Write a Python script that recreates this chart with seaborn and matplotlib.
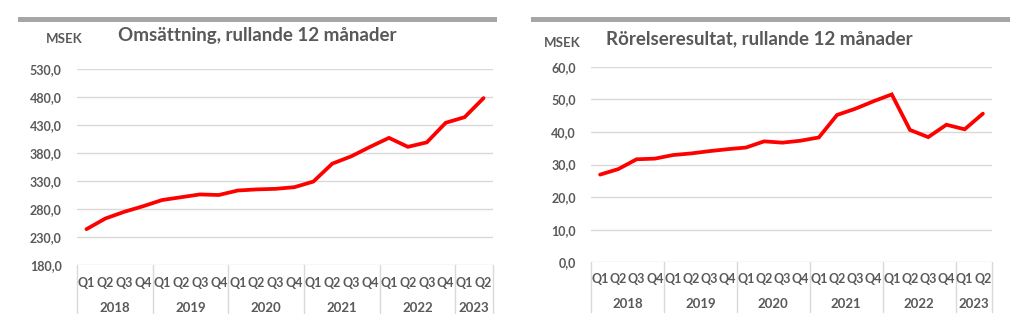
import matplotlib
matplotlib.use("Agg")
import matplotlib.pyplot as plt
import matplotlib.transforms as mtransforms
from matplotlib.patches import Rectangle
import seaborn as sns
import pandas as pd

# ---------------- data ----------------
quarters = ["Q1", "Q2", "Q3", "Q4"] * 5 + ["Q1", "Q2"]
years = ["2018", "2019", "2020", "2021", "2022", "2023"]
year_counts = [4, 4, 4, 4, 4, 2]

omsattning = [244, 263, 275, 285, 296, 301, 306, 305, 313, 315, 316, 319,
              329, 361, 374, 391, 407, 391, 399, 434, 444, 478]
rorelse = [26.9, 28.6, 31.6, 31.8, 32.9, 33.4, 34.1, 34.7, 35.2, 37.1, 36.7, 37.3,
           38.3, 45.2, 47.1, 49.4, 51.5, 40.6, 38.4, 42.2, 40.8, 45.6]

left_title = "Omsättning, rullande 12 månader"
right_title = "Rörelseresultat, rullande 12 månader"
unit = "MSEK"
left_yticks = [180, 230, 280, 330, 380, 430, 480, 530]
right_yticks = [0, 10, 20, 30, 40, 50, 60]

# ---------------- style ----------------
sns.set_theme(style="white")
plt.rcParams["font.family"] = ["Lato", "DejaVu Sans"]
TXT = "#595959"
GRID = "#D9D9D9"

W, H = 1026, 332
fig = plt.figure(figsize=(W / 100, H / 100), dpi=100)
fig.patch.set_facecolor("white")


def px_axes(x0, y0, x1, y1):
    return fig.add_axes([x0 / W, 1 - y1 / H, (x1 - x0) / W, (y1 - y0) / H])


def draw_panel(ax, values, yticks, fmt, q_off, y_off, sep_len):
    df = pd.DataFrame({"idx": list(range(len(values))), "val": values})
    sns.lineplot(data=df, x="idx", y="val", ax=ax, color="#FF0000",
                 linewidth=2.7, solid_joinstyle="miter")
    ax.set_xlim(-0.5, len(values) - 0.5)
    ax.set_ylim(yticks[0], yticks[-1])
    ax.set_yticks(yticks)
    ax.set_yticklabels([fmt(v) for v in yticks], color=TXT,
                       fontsize=9, fontweight="bold")
    ax.tick_params(axis="y", length=0, pad=11)
    ax.set_xticks([])
    ax.set_xlabel("")
    ax.set_ylabel("")
    for s in ax.spines.values():
        s.set_visible(False)
    for t in yticks:
        ax.axhline(t, color=GRID, lw=1.0, zorder=0)

    tr = mtransforms.blended_transform_factory(ax.transData, ax.transAxes)
    to_px = lambda p: mtransforms.ScaledTranslation(0, -p / 100, fig.dpi_scale_trans)
    for i, q in enumerate(quarters):
        ax.text(i, 0, q, transform=tr + to_px(q_off), ha="center", va="center",
                fontsize=9, fontweight="bold", color=TXT, clip_on=False)
    start = 0
    bounds = [-0.5]
    for y, c in zip(years, year_counts):
        ax.text(start + (c - 1) / 2, 0, y, transform=tr + to_px(y_off),
                ha="center", va="center", fontsize=9.5, fontweight="bold",
                color=TXT, clip_on=False)
        start += c
        bounds.append(start - 0.5)
    for b in bounds:
        line = plt.Line2D([b, b], [0, -sep_len / ax.bbox.height], color=GRID,
                          lw=1.0, clip_on=False, transform=tr)
        ax.add_line(line)


# left panel
axL = px_axes(77, 69, 493, 265)
draw_panel(axL, omsattning, left_yticks, lambda v: f"{v:.1f}".replace(".", ","),
           17.7, 42.7, 48)
# right panel
axR = px_axes(591, 66.7, 992, 262.3)
draw_panel(axR, rorelse, right_yticks, lambda v: f"{v:.1f}".replace(".", ","),
           16.7, 41.4, 50)

# top gray bars
fig.add_artist(Rectangle((18 / W, 1 - 22 / H), (497 - 18) / W, 5 / H,
                         transform=fig.transFigure, color="#A6A6A6", lw=0))
fig.add_artist(Rectangle((531 / W, 1 - 22 / H), (1010 - 531) / W, 5 / H,
                         transform=fig.transFigure, color="#A6A6A6", lw=0))

# titles and unit labels
fig.text(118 / W, 1 - 36 / H, left_title, ha="left", va="center",
         fontsize=13.5, fontweight="bold", color=TXT)
fig.text(46 / W, 1 - 39 / H, unit, ha="left", va="center",
         fontsize=9.5, fontweight="bold", color=TXT)
fig.text(606 / W, 1 - 39 / H, right_title, ha="left", va="center",
         fontsize=13.5, fontweight="bold", color=TXT)
fig.text(544 / W, 1 - 43 / H, unit, ha="left", va="center",
         fontsize=9.5, fontweight="bold", color=TXT)

fig.savefig("out.png", dpi=100, facecolor="white")
